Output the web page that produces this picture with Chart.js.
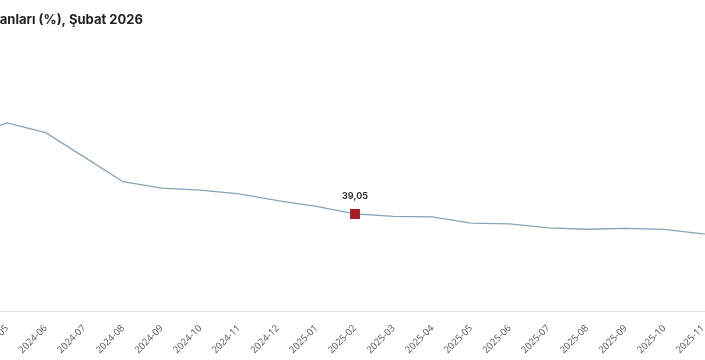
<!DOCTYPE html>
<html>
<head>
<meta charset="utf-8">
<script src="https://cdn.jsdelivr.net/npm/chart.js@4"></script>
<style>
  html, body { margin:0; padding:0; background:#fff; overflow:hidden; width:705px; height:360px; }
  #wrap { position:absolute; left:-120px; top:0; width:945px; height:360px; }
</style>
</head>
<body>
<div id="wrap"><canvas id="c"></canvas></div>
<script>
const titleText = "TÜFE yıllık değişim oranları (%), Şubat 2026";
const titleCutPrefix = "TÜFE yıllık değişim or";
const categories = ["2024-04","2024-05","2024-06","2024-07","2024-08","2024-09","2024-10","2024-11","2024-12",
  "2025-01","2025-02","2025-03","2025-04","2025-05","2025-06","2025-07","2025-08","2025-09","2025-10","2025-11","2025-12"];
const values = [69.80,75.45,71.60,61.78,51.97,49.38,48.58,47.09,44.38,
  42.12,39.05,38.10,37.86,35.41,35.05,33.52,32.95,33.29,32.87,31.07,30.89];
const highlightLabel = "2025-02";
const highlightIndex = categories.indexOf(highlightLabel);

const VIEW_OFFSET = 120;

const overlay = {
  id: 'overlay',
  afterDraw(chart) {
    const ctx = chart.ctx;
    ctx.save();
    ctx.font = "bold 13px Inter, 'Open Sans', sans-serif";
    ctx.fillStyle = "#222";
    ctx.textBaseline = "middle";
    ctx.textAlign = "left";
    const w = ctx.measureText(titleCutPrefix).width;
    ctx.fillText(titleText, VIEW_OFFSET - w, 20.5);
    const pt = chart.getDatasetMeta(0).data[highlightIndex];
    ctx.font = "bold 9px Inter, 'Open Sans', sans-serif";
    ctx.fillStyle = "#333";
    ctx.textAlign = "center";
    ctx.fillText(values[highlightIndex].toFixed(2).replace('.', ','), pt.x, pt.y - 18);
    ctx.restore();
  }
};

new Chart(document.getElementById('c'), {
  type: 'line',
  data: {
    labels: categories,
    datasets: [{
      data: values,
      borderColor: '#87a4b6',
      borderWidth: 1.3,
      tension: 0,
      fill: false,
      pointStyle: 'rect',
      pointRadius: ctx => ctx.dataIndex === highlightIndex ? 7 : 0,
      pointHoverRadius: ctx => ctx.dataIndex === highlightIndex ? 7 : 0,
      pointBackgroundColor: '#a51d22',
      pointBorderColor: '#a51d22',
      pointBorderWidth: 0
    }]
  },
  options: {
    responsive: true,
    maintainAspectRatio: false,
    animation: false,
    layout: { padding: { left: 88.33, right: 83.3, top: 86.6, bottom: 0 } },
    plugins: { legend: { display: false }, tooltip: { enabled: false }, title: { display: false } },
    scales: {
      x: {
        offset: false,
        grid: { display: false },
        border: { display: true, color: '#dedede', width: 1 },
        ticks: {
          autoSkip: false, maxRotation: 45, minRotation: 45,
          color: '#555', padding: 3,
          font: { family: "'Open Sans', sans-serif", size: 9.5 }
        },
        afterFit(scale) { scale.height = 48.4; }
      },
      y: {
        display: false,
        min: 0, max: 90
      }
    }
  },
  plugins: [overlay]
});
</script>
</body>
</html>
